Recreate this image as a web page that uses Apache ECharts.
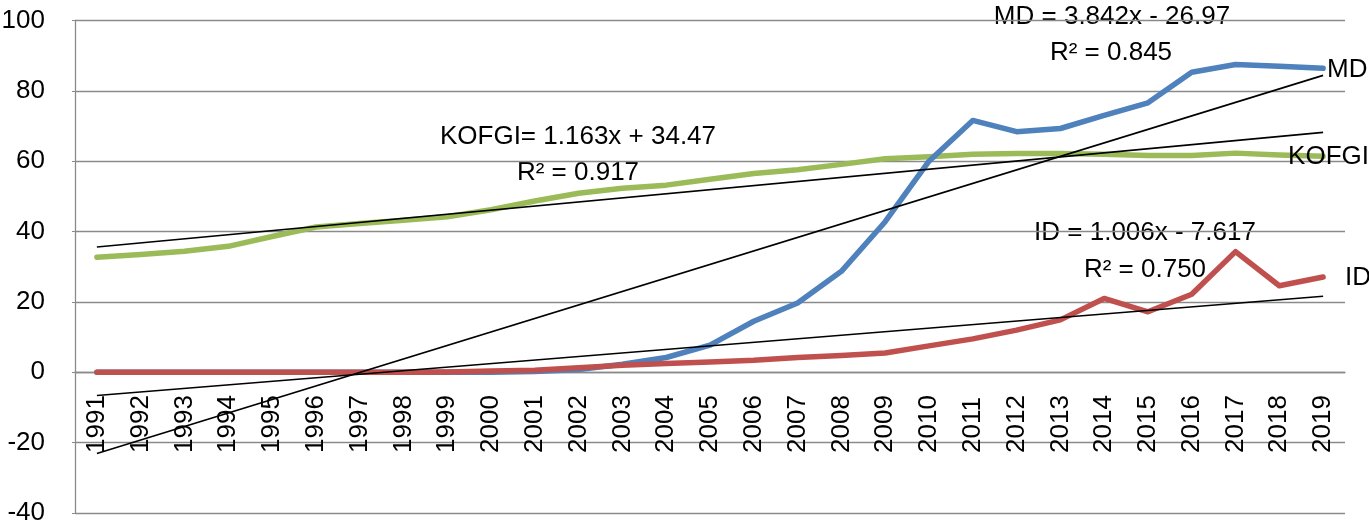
<!DOCTYPE html>
<html>
<head>
<meta charset="utf-8">
<script src="https://cdn.jsdelivr.net/npm/echarts@6/dist/echarts.min.js"></script>
<style>html,body{margin:0;padding:0;background:#fff;}#c{width:1369px;height:532px;}</style>
</head>
<body>
<div id="c"></div>
<script>
var years = ['1991','1992','1993','1994','1995','1996','1997','1998','1999','2000','2001','2002','2003','2004','2005','2006','2007','2008','2009','2010','2011','2012','2013','2014','2015','2016','2017','2018','2019'];
var kofgi = [32.7, 33.5, 34.4, 35.8, 38.6, 41.3, 42.3, 43.2, 44.2, 46.2, 48.7, 50.9, 52.3, 53.2, 54.9, 56.5, 57.6, 59.1, 60.7, 61.3, 62.0, 62.2, 62.2, 62.0, 61.6, 61.6, 62.3, 61.8, 61.4];
var md = [0, 0, 0, 0, 0, 0, 0, 0, 0, 0, 0.2, 0.8, 2.3, 4.2, 7.7, 14.5, 19.7, 28.7, 42.8, 60.0, 71.6, 68.4, 69.3, 73.0, 76.6, 85.3, 87.5, 87.0, 86.4];
var id = [0, 0, 0, 0, 0, 0, 0, 0, 0.1, 0.4, 0.6, 1.3, 2.0, 2.5, 2.9, 3.4, 4.2, 4.8, 5.5, 7.5, 9.5, 12.0, 14.9, 21.0, 17.2, 22.2, 34.3, 24.6, 27.1];
// trend line endpoints (1991, 2019)
var mdTrend = [-23.1, 84.4];
var kofgiTrend = [35.6, 68.2];
var idTrend = [-6.6, 21.6];
var yTicks = {min: -40, max: 100, interval: 20};

var FONT = 'Liberation Sans';
var GRID = '#8a8a8a';
function trend(name, ends) {
  return {
    name: name, type: 'line', symbol: 'none', silent: true, z: 5,
    data: [[years[0], ends[0]], [years[years.length - 1], ends[1]]],
    lineStyle: {color: '#000', width: 1.6}
  };
}
function main(name, data, color, off) {
  return {
    name: name, type: 'line', symbol: 'none', data: data, z: 3,
    lineStyle: {color: color, width: 5.5, cap: 'round', join: 'round'},
    endLabel: {show: true, formatter: name, color: '#000', fontSize: 26, fontFamily: FONT, distance: 0, offset: off}
  };
}
var chart = echarts.init(document.getElementById('c'));
chart.setOption({
  animation: false,
  grid: {left: 75, right: 24, top: 20.5, bottom: 19, containLabel: false, outerBoundsMode: 'none'},
  xAxis: {
    type: 'category', data: years, boundaryGap: true,
    axisLine: {onZero: true, lineStyle: {color: GRID, width: 1.3}},
    axisTick: {show: false},
    axisLabel: {inside: true, rotate: 90, margin: 60, fontSize: 26, fontFamily: FONT, color: '#000', interval: 0},
    splitLine: {show: false}
  },
  yAxis: {
    type: 'value', min: yTicks.min, max: yTicks.max, interval: yTicks.interval,
    axisLine: {show: true, lineStyle: {color: GRID, width: 1.3}},
    axisTick: {show: true, length: 3, lineStyle: {color: GRID}},
    axisLabel: {margin: 30, fontSize: 26, fontFamily: FONT, color: '#000'},
    splitLine: {show: true, lineStyle: {color: GRID, width: 1.3}}
  },
  series: [
    main('KOFGI', kofgi, '#9BBB59', [-35, 1]),
    main('MD', md, '#4F81BD', [4, 1]),
    main('ID', id, '#C0504D', [22, 1]),
    trend('MD trend', mdTrend),
    trend('KOFGI trend', kofgiTrend),
    trend('ID trend', idTrend)
  ],
  graphic: [
    {type: 'text', x: 578, y: 137, style: {text: 'KOFGI= 1.163x + 34.47', fontSize: 26, fontFamily: FONT, fill: '#000', align: 'center', verticalAlign: 'middle'}},
    {type: 'text', x: 578, y: 173, style: {text: 'R² = 0.917', fontSize: 26, fontFamily: FONT, fill: '#000', align: 'center', verticalAlign: 'middle'}},
    {type: 'text', x: 1112, y: 17, style: {text: 'MD = 3.842x - 26.97', fontSize: 26, fontFamily: FONT, fill: '#000', align: 'center', verticalAlign: 'middle'}},
    {type: 'text', x: 1111, y: 53, style: {text: 'R² = 0.845', fontSize: 26, fontFamily: FONT, fill: '#000', align: 'center', verticalAlign: 'middle'}},
    {type: 'text', x: 1145, y: 233, style: {text: 'ID = 1.006x - 7.617', fontSize: 26, fontFamily: FONT, fill: '#000', align: 'center', verticalAlign: 'middle'}},
    {type: 'text', x: 1145, y: 270, style: {text: 'R² = 0.750', fontSize: 26, fontFamily: FONT, fill: '#000', align: 'center', verticalAlign: 'middle'}}
  ]
});
</script>
</body>
</html>
